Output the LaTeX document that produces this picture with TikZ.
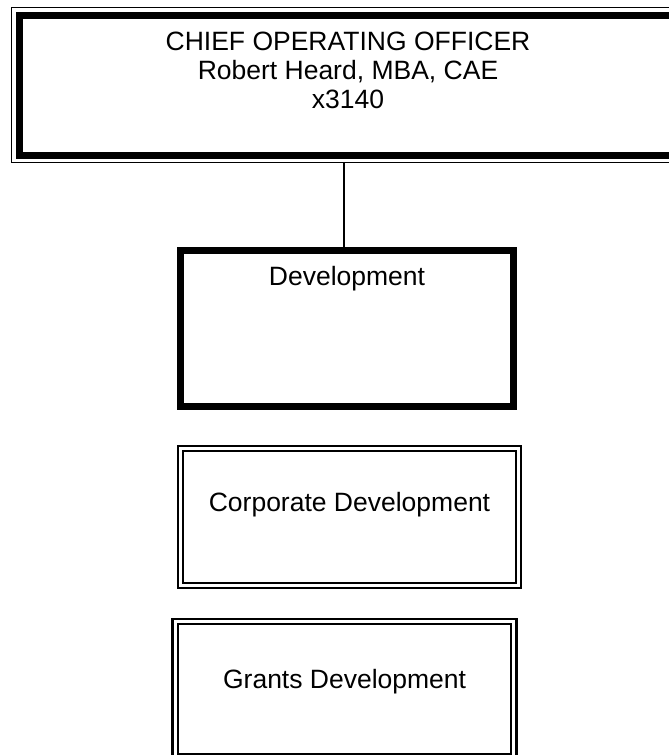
\documentclass[tikz,border=0pt]{standalone}
\usepackage{fontspec}
\setmainfont{Liberation Sans}
\begin{document}
\begin{tikzpicture}[x=1pt,y=-1pt,
  every node/.style={inner sep=0pt,outer sep=0pt,font=\fontsize{26.5}{29}\selectfont},
  thinbox/.style={draw,line width=1.5pt,rectangle},
  heavybox/.style={draw,line width=7pt,rectangle},
  dblbox/.style={draw,double,line width=2.25pt,double distance=3pt,rectangle},
  link/.style={line width=1.5pt}]
\fill[white] (0,0) rectangle (669,755);
\useasboundingbox (0,0) rectangle (669,755);
\clip (0,0) rectangle (669,755);

% Chief Operating Officer box (outer thin line is the node border)
\node[thinbox,minimum width=673pt,minimum height=155pt] (coo) at (348,85)
  {\raisebox{34.5pt}[0pt][0pt]{\begin{tabular}[t]{@{}c@{}}CHIEF OPERATING OFFICER\\Robert Heard, MBA, CAE\\x3140\end{tabular}}};
\draw[line width=7pt] ([xshift=8pt,yshift=-8pt]coo.north west) rectangle ([xshift=-8pt,yshift=7pt]coo.south east);

% Development
\node[heavybox,minimum width=333pt,minimum height=156pt] (dev) at (347,328.5)
  {\raisebox{43pt}[0pt][0pt]{Development}};

% Corporate Development
\node[dblbox,minimum width=338pt,minimum height=137pt] (corp) at (349.5,517)
  {\raisebox{6pt}[0pt][0pt]{Corporate Development}};

% Grants Development
\node[dblbox,minimum width=338.75pt,minimum height=134.8pt] (grants) at (344.6,689.1)
  {\raisebox{1pt}[0pt][0pt]{Grants Development}};

% connector
\coordinate (cx) at (344,0);
\draw[link] (cx |- coo.south) -- (cx |- dev.north);
\end{tikzpicture}
\end{document}
